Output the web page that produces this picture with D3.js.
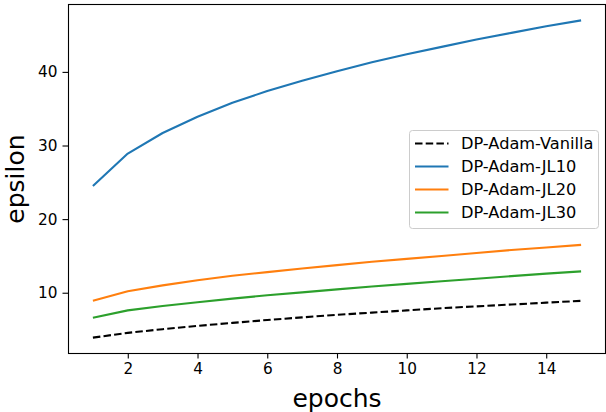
<!DOCTYPE html>
<html>
<head>
<meta charset="utf-8">
<script src="https://cdn.jsdelivr.net/npm/d3@7"></script>
<style>
  html, body { margin: 0; padding: 0; background: #fff; }
  svg { display: block; }
  text { font-family: "DejaVu Sans", sans-serif; fill: #000; }
</style>
</head>
<body>
<svg id="chart" width="606" height="412"></svg>
<script>
const epochs = [1, 2, 3, 4, 5, 6, 7, 8, 9, 10, 11, 12, 13, 14, 15];
const seriesNames = ["DP-Adam-Vanilla", "DP-Adam-JL10", "DP-Adam-JL20", "DP-Adam-JL30"];
const vanilla = [3.9, 4.55, 5.05, 5.5, 5.9, 6.3, 6.65, 7.0, 7.3, 7.6, 7.9, 8.15, 8.4, 8.65, 8.9];
const jl10 = [24.5, 28.9, 31.7, 33.9, 35.8, 37.4, 38.8, 40.1, 41.3, 42.4, 43.4, 44.4, 45.3, 46.2, 47.0];
const jl20 = [8.9, 10.2, 11.0, 11.7, 12.3, 12.8, 13.3, 13.75, 14.2, 14.6, 15.0, 15.4, 15.8, 16.15, 16.5];
const jl30 = [6.6, 7.6, 8.2, 8.7, 9.2, 9.65, 10.05, 10.45, 10.85, 11.2, 11.55, 11.9, 12.25, 12.6, 12.9];
const xTicks = [2, 4, 6, 8, 10, 12, 14];
const yTicks = [10, 20, 30, 40];
const xLabel = "epochs";
const yLabel = "epsilon";

const series = [
  { name: seriesNames[0], values: vanilla, color: "#000000", dash: "7.5,3.2" },
  { name: seriesNames[1], values: jl10, color: "#1f77b4", dash: null },
  { name: seriesNames[2], values: jl20, color: "#ff7f0e", dash: null },
  { name: seriesNames[3], values: jl30, color: "#2ca02c", dash: null }
];

const svg = d3.select("#chart");
const L = 68.5, R = 605.5, T = 4.5, B = 353.5;

const xMin = d3.min(epochs), xMax = d3.max(epochs);
const xPad = (xMax - xMin) * 0.05;
const allVals = series.flatMap(s => s.values);
const yMin = d3.min(allVals), yMax = d3.max(allVals);
const yPad = (yMax - yMin) * 0.05;

const x = d3.scaleLinear().domain([xMin - xPad, xMax + xPad]).range([L, R]);
const y = d3.scaleLinear().domain([yMin - yPad, yMax + yPad]).range([B, T]);

// lines
const line = d3.line().x((d, i) => x(epochs[i])).y(d => y(d));
const plot = svg.append("g");
series.forEach(s => {
  plot.append("path")
    .datum(s.values)
    .attr("d", line)
    .attr("fill", "none")
    .attr("stroke", s.color)
    .attr("stroke-width", 2.1)
    .attr("stroke-linecap", "butt")
    .attr("stroke-linejoin", "round")
    .attr("stroke-dasharray", s.dash);
});

// axes
const xAxis = d3.axisBottom(x).tickValues(xTicks).tickSize(5).tickPadding(5).tickFormat(d3.format("d"));
const yAxis = d3.axisLeft(y).tickValues(yTicks).tickSize(6).tickPadding(5).tickFormat(d3.format("d"));

const gx = svg.append("g").attr("transform", `translate(0,${B})`).call(xAxis);
const gy = svg.append("g").attr("transform", `translate(${L},0)`).call(yAxis);
[gx, gy].forEach(g => {
  g.select(".domain").remove();
  g.selectAll(".tick line").attr("stroke", "#000").attr("stroke-width", 1.1);
  g.selectAll(".tick text").attr("font-family", "DejaVu Sans").attr("font-size", 15.3).attr("fill", "#000");
});

// frame
svg.append("rect")
  .attr("x", L).attr("y", T)
  .attr("width", R - L).attr("height", B - T)
  .attr("fill", "none").attr("stroke", "#000").attr("stroke-width", 1.1);

// axis labels
svg.append("text")
  .attr("x", (L + R) / 2).attr("y", 407)
  .attr("text-anchor", "middle")
  .attr("font-size", 25)
  .text(xLabel);
svg.append("text")
  .attr("transform", `translate(24,${(T + B) / 2}) rotate(-90)`)
  .attr("text-anchor", "middle")
  .attr("font-size", 25)
  .text(yLabel);

// legend
const lg = svg.append("g");
lg.append("rect")
  .attr("x", 409.5).attr("y", 130.5)
  .attr("width", 189).attr("height", 98)
  .attr("rx", 3).attr("ry", 3)
  .attr("fill", "#fff").attr("fill-opacity", 0.8)
  .attr("stroke", "#cccccc").attr("stroke-width", 1);
series.forEach((s, i) => {
  const cy = 143.5 + i * 23;
  lg.append("line")
    .attr("x1", 415).attr("x2", 448.5)
    .attr("y1", cy).attr("y2", cy)
    .attr("stroke", s.color).attr("stroke-width", 2.1)
    .attr("stroke-dasharray", s.dash);
  lg.append("text")
    .attr("x", 461).attr("y", cy)
    .attr("dy", "0.36em")
    .attr("font-size", 16.2)
    .text(s.name);
});
</script>
</body>
</html>
